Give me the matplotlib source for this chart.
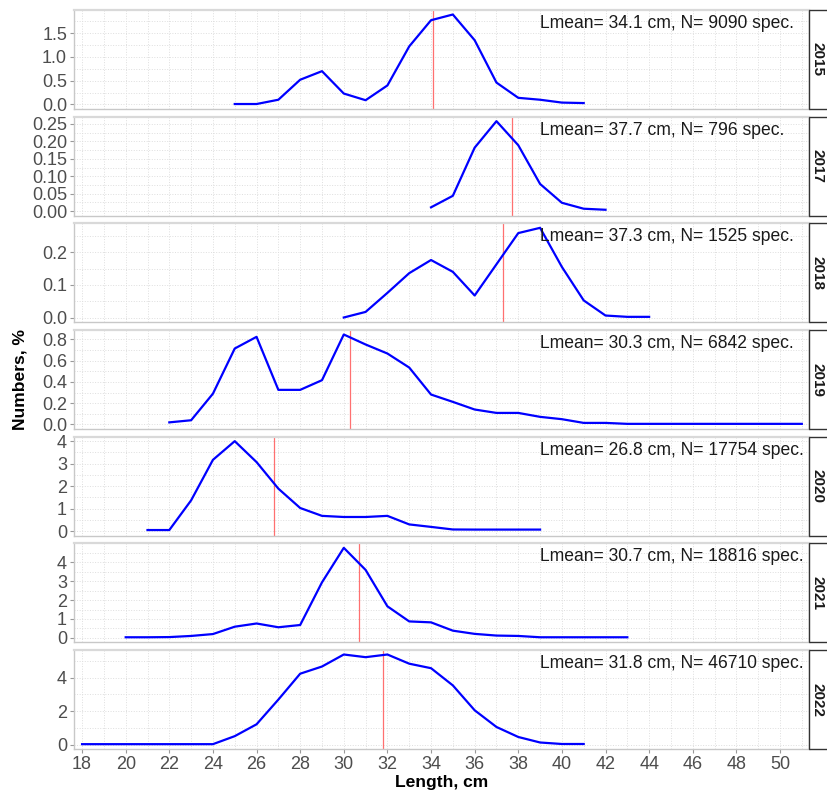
import numpy as np
import matplotlib.pyplot as plt
from matplotlib.patches import Rectangle
from matplotlib.ticker import MultipleLocator

plt.rcParams['font.family'] = ['Liberation Sans', 'DejaVu Sans']

years = ['2015', '2017', '2018', '2019', '2020', '2021', '2022']
lmean = [34.1, 37.7, 37.3, 30.3, 26.8, 30.7, 31.8]
nspec = [9090, 796, 1525, 6842, 17754, 18816, 46710]

len_2015 = list(range(25, 42))
pct_2015 = [0.01, 0.01, 0.10, 0.52, 0.70, 0.23, 0.09, 0.40, 1.22, 1.77, 1.89,
            1.35, 0.46, 0.14, 0.10, 0.04, 0.03]
len_2017 = list(range(34, 43))
pct_2017 = [0.011, 0.044, 0.182, 0.258, 0.189, 0.078, 0.024, 0.007, 0.004]
len_2018 = list(range(30, 45))
pct_2018 = [0.001, 0.018, 0.076, 0.136, 0.176, 0.140, 0.068, 0.163, 0.258,
            0.274, 0.155, 0.053, 0.007, 0.003, 0.003]
len_2019 = list(range(22, 52))
pct_2019 = [0.02, 0.04, 0.29, 0.715, 0.825, 0.326, 0.326, 0.417, 0.847, 0.753,
            0.668, 0.536, 0.282, 0.213, 0.141, 0.109, 0.109, 0.072, 0.050, 0.015,
            0.015, 0.006, 0.006, 0.006, 0.006, 0.006, 0.006, 0.006, 0.006, 0.006]
len_2020 = list(range(21, 40))
pct_2020 = [0.05, 0.05, 1.37, 3.17, 4.00, 3.07, 1.89, 1.03, 0.68, 0.63, 0.63,
            0.68, 0.30, 0.19, 0.075, 0.07, 0.07, 0.07, 0.07]
len_2021 = list(range(20, 44))
pct_2021 = [0.03, 0.03, 0.04, 0.10, 0.20, 0.59, 0.76, 0.56, 0.68, 2.94, 4.77,
            3.60, 1.67, 0.87, 0.82, 0.38, 0.21, 0.12, 0.10, 0.03, 0.03, 0.03,
            0.03, 0.03]
len_2022 = list(range(18, 42))
pct_2022 = [0.02, 0.02, 0.02, 0.02, 0.02, 0.02, 0.02, 0.50, 1.21, 2.69, 4.24,
            4.67, 5.39, 5.23, 5.39, 4.84, 4.57, 3.54, 2.05, 1.05, 0.45, 0.12,
            0.03, 0.03]

lengths = [len_2015, len_2017, len_2018, len_2019, len_2020, len_2021, len_2022]
values = [pct_2015, pct_2017, pct_2018, pct_2019, pct_2020, pct_2021, pct_2022]
yticks = [[0.0, 0.5, 1.0, 1.5],
          [0.0, 0.05, 0.10, 0.15, 0.20, 0.25],
          [0.0, 0.1, 0.2],
          [0.0, 0.2, 0.4, 0.6, 0.8],
          [0, 1, 2, 3, 4],
          [0, 1, 2, 3, 4],
          [0, 2, 4]]
yfmt = ['%.1f', '%.2f', '%.1f', '%.1f', '%d', '%d', '%d']
xticks = list(range(18, 52, 2))

W, H = 827, 793
fig = plt.figure(figsize=(W / 100, H / 100), dpi=100)
gs = fig.add_gridspec(7, 1, left=74 / W, right=809 / W, top=1 - 10 / H,
                      bottom=1 - 749 / H, hspace=0.0775)

grid_col = '#dedede'
for i, yr in enumerate(years):
    ax = fig.add_subplot(gs[i])
    x = lengths[i]
    y = values[i]
    ymax = max(y)
    ax.set_xlim(17.63, 51.33)
    ax.set_ylim(-0.05 * ymax, 1.05 * ymax)
    ax.plot(x, y, color='blue', lw=1.6, zorder=3)
    ax.axvline(lmean[i], color='#ff7070', lw=0.9, zorder=2)

    ax.set_xticks(xticks)
    ax.xaxis.set_minor_locator(MultipleLocator(1))
    ax.set_yticks(yticks[i])
    ax.set_yticklabels([yfmt[i] % t for t in yticks[i]])
    step = yticks[i][1] - yticks[i][0]
    ax.yaxis.set_minor_locator(MultipleLocator(step / 2))
    ax.grid(which='both', color=grid_col, ls=':', lw=0.7, zorder=0)
    ax.tick_params(which='minor', length=0)
    ax.tick_params(which='major', length=3, color='#999999', width=0.8,
                   labelsize=13, labelcolor='#4d4d4d', pad=2)
    if i < 6:
        ax.tick_params(axis='x', which='both', length=0, labelbottom=False)
    for s in ax.spines.values():
        s.set_color('#c8c8c8')
        s.set_linewidth(1.0)
    ax.spines['top'].set_linewidth(1.6)
    ax.spines['top'].set_color('#d9d9d9')

    ax.text(39.0, 1 - 5 / 99, 'Lmean= %.1f cm, N= %d spec.' % (lmean[i], nspec[i]),
            transform=ax.get_xaxis_transform(), ha='left', va='top',
            fontsize=12.65, color='#1a1a1a')

    # strip on the right with the year
    pos = ax.get_position()
    fig.add_artist(Rectangle((pos.x1, pos.y0), 30 / W, pos.height,
                             transform=fig.transFigure, facecolor='white',
                             edgecolor='#333333', lw=1.0, clip_on=False))
    fig.text(pos.x1 + 9 / W, (pos.y0 + pos.y1) / 2, yr, rotation=-90,
             ha='center', va='center', fontsize=11, fontweight='bold',
             color='#1a1a1a')

fig.text(20 / W, 1 - 380 / H, 'Numbers, %', rotation=90, ha='center',
         va='center', fontsize=12.6, fontweight='bold')
fig.text(441.5 / W, 1 - 783 / H, 'Length, cm', ha='center', va='center',
         fontsize=12.6, fontweight='bold')

fig.savefig('out.png', dpi=100)
